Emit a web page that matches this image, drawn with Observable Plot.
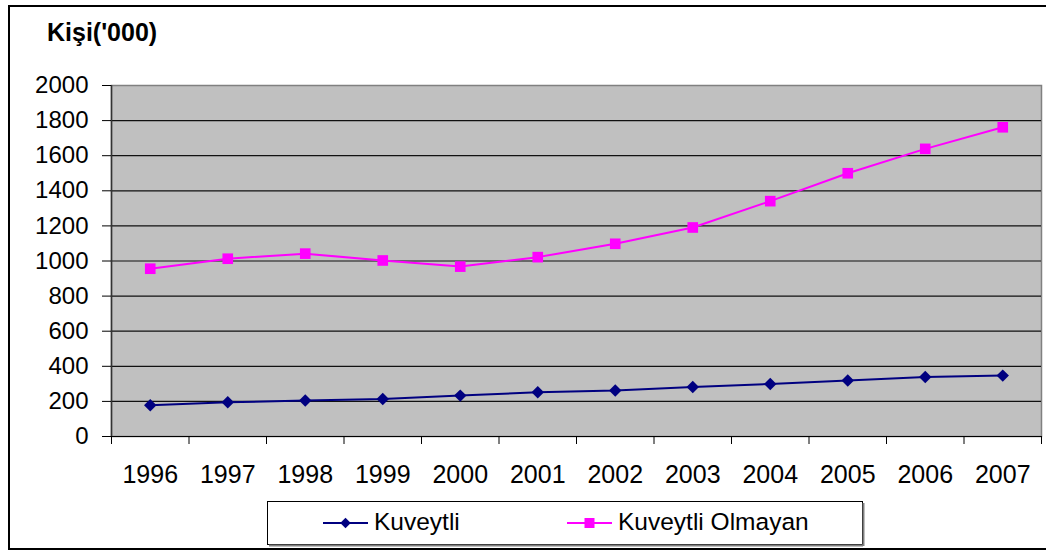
<!DOCTYPE html>
<html>
<head>
<meta charset="utf-8">
<script src="https://cdn.jsdelivr.net/npm/d3@7"></script>
<script src="https://cdn.jsdelivr.net/npm/@observablehq/plot@0.6"></script>
<style>
  html, body { margin: 0; padding: 0; background: #fff; overflow: hidden; }
  #wrap { position: relative; width: 1046px; height: 550px; overflow: hidden; font-family: "Liberation Sans", Arial, sans-serif; }
  #frame { position: absolute; left: 8px; top: 5px; width: 1100px; height: 541px; border: 2px solid #000; box-sizing: content-box; }
  #title { position: absolute; left: 47px; top: 20px; font-weight: bold; font-size: 25px; line-height: 1; color: #000; white-space: nowrap; }
  #chart { position: absolute; left: 0; top: 0; }
  #legend { position: absolute; left: 266px; top: 500px; }
</style>
</head>
<body>
<div id="wrap">
  <div id="frame"></div>
  <div id="chart"></div>
  <div id="title">Kişi('000)</div>
  <svg id="legend" width="600" height="48"></svg>
</div>
<script>
const years = [1996, 1997, 1998, 1999, 2000, 2001, 2002, 2003, 2004, 2005, 2006, 2007];
const kuveytli = [178, 195, 205, 214, 233, 252, 262, 282, 299, 319, 339, 347];
const olmayan = [956, 1013, 1042, 1003, 968, 1022, 1098, 1191, 1341, 1500, 1639, 1762];
const yTicks = [0, 200, 400, 600, 800, 1000, 1200, 1400, 1600, 1800, 2000];
const seriesNames = ["Kuveytli", "Kuveytli Olmayan"];
const colors = ["#000080", "#FF00FF"];

const rowsA = years.map((y, i) => ({year: y, value: kuveytli[i]}));
const rowsB = years.map((y, i) => ({year: y, value: olmayan[i]}));
const bounds = years.map(y => y - 0.5).concat([years[years.length - 1] + 0.5]);
const gridTicks = yTicks.slice(1, -1);

const chart = Plot.plot({
  width: 1046,
  height: 550,
  marginLeft: 111,
  marginRight: 5,
  marginTop: 85,
  marginBottom: 114,
  style: {fontFamily: "'Liberation Sans', Arial, sans-serif", fontSize: "24px", color: "#000", background: "transparent"},
  x: {type: "linear", domain: [bounds[0], bounds[bounds.length - 1]]},
  y: {domain: [yTicks[0], yTicks[yTicks.length - 1]]},
  marks: [
    Plot.frame({fill: "#C0C0C0", stroke: "#808080", strokeWidth: 1.5}),
    Plot.gridY(gridTicks, {stroke: "#111", strokeOpacity: 1, strokeWidth: 1.2}),
    Plot.ruleX([bounds[0]], {stroke: "#333", strokeWidth: 1.5}),
    Plot.ruleY([yTicks[0]], {stroke: "#000", strokeWidth: 1.2}),
    Plot.axisY(yTicks, {tickSize: 9, tickPadding: 14, fontSize: 24, tickFormat: d => String(d), label: null, stroke: "#000"}),
    Plot.axisX(bounds, {tickSize: 8, tickFormat: () => "", label: null, stroke: "#000"}),
    Plot.axisX(years, {tickSize: 0, tickPadding: 29, tickFormat: d => String(d), fontSize: 25, label: null}),
    Plot.line(rowsB, {x: "year", y: "value", stroke: colors[1], strokeWidth: 2}),
    Plot.dot(rowsB, {x: "year", y: "value", symbol: "square", fill: colors[1], r: 6}),
    Plot.line(rowsA, {x: "year", y: "value", stroke: colors[0], strokeWidth: 2}),
    Plot.dot(rowsA, {x: "year", y: "value", symbol: "diamond2", fill: colors[0], r: 5.6})
  ]
});
document.getElementById("chart").appendChild(chart);

// Legend
const lg = d3.select("#legend");
lg.append("rect").attr("x", 1.5).attr("y", 1.5).attr("width", 595).attr("height", 43)
  .attr("fill", "#fff").attr("stroke", "#000").attr("stroke-width", 1);
lg.append("line").attr("x1", 3).attr("x2", 597).attr("y1", 45.5).attr("y2", 45.5).attr("stroke", "#808080").attr("stroke-width", 2);
lg.append("line").attr("x1", 597.5).attr("x2", 597.5).attr("y1", 3).attr("y2", 46).attr("stroke", "#808080").attr("stroke-width", 2);
const items = [{x: 57}, {x: 301}];
seriesNames.forEach((name, i) => {
  const g = lg.append("g").attr("transform", `translate(${items[i].x},23)`);
  g.append("line").attr("x1", 0).attr("x2", 45).attr("y1", 0).attr("y2", 0).attr("stroke", colors[i]).attr("stroke-width", 2);
  if (i === 0) {
    g.append("path").attr("d", d3.symbol(d3.symbolDiamond2, 70)()).attr("transform", "translate(22.5,0)").attr("fill", colors[i]);
  } else {
    g.append("rect").attr("x", 22.5 - 5).attr("y", -5).attr("width", 10).attr("height", 10).attr("fill", colors[i]);
  }
  g.append("text").attr("x", 51).attr("y", 7).attr("font-size", 24.5).attr("font-family", "'Liberation Sans', Arial, sans-serif").attr("fill", "#000").text(name);
});
</script>
</body>
</html>
